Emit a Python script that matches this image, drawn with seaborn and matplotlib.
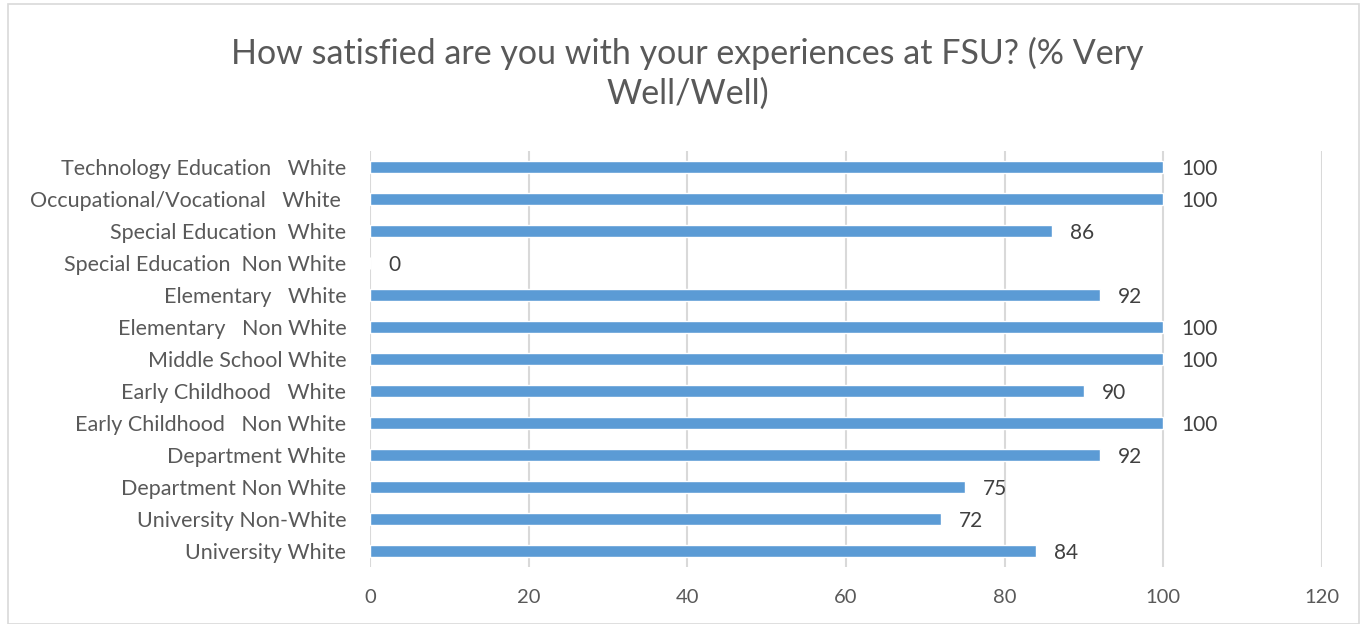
import matplotlib
matplotlib.use("Agg")
import matplotlib.pyplot as plt
import seaborn as sns
import pandas as pd
from matplotlib.patches import Rectangle

categories = [
    "Technology Education   White",
    "Occupational/Vocational   White ",
    "Special Education  White",
    "Special Education  Non White",
    "Elementary   White",
    "Elementary   Non White",
    "Middle School White",
    "Early Childhood   White",
    "Early Childhood   Non White",
    "Department White",
    "Department Non White",
    "University Non-White",
    "University White",
]
values = [100, 100, 86, 0, 92, 100, 100, 90, 100, 92, 75, 72, 84]
x_ticks = [0, 20, 40, 60, 80, 100, 120]
title = "How satisfied are you with your experiences at FSU? (% Very\nWell/Well)"

df = pd.DataFrame({"category": categories, "value": values})

sns.set_theme(style="white")
plt.rcParams["font.family"] = ["Lato", "DejaVu Sans"]

fig = plt.figure(figsize=(13.67, 6.24), dpi=100)
ax = fig.add_axes([370 / 1367, 1 - 567 / 624, (1322 - 370) / 1367, (567 - 151) / 624])

sns.barplot(data=df, x="value", y="category", order=categories, orient="h",
            color="#5B9BD5", saturation=1, width=0.375, ax=ax, zorder=3)

ax.set_xlim(0, 120)
ax.set_xticks(x_ticks)
ax.set_xticklabels([str(t) for t in x_ticks])
ax.grid(axis="x", color="#D9D9D9", linewidth=1.5, zorder=0)
ax.grid(axis="y", visible=False)
for s in ax.spines.values():
    s.set_visible(False)
ax.set_xlabel("")
ax.set_ylabel("")
ax.tick_params(axis="both", length=0, colors="#595959")
ax.tick_params(axis="x", pad=16, labelsize=14.5)
ax.tick_params(axis="y", pad=17, labelsize=15.5)

for cont in ax.containers:
    texts = ax.bar_label(cont, labels=[str(v) for v in values], padding=13,
                         fontsize=15, color="#404040")
    for t in texts:
        t.set_va("center_baseline")

fig.text(0.503, 1 - 73 / 624, title, ha="center", va="center", fontsize=24.5,
         color="#595959", linespacing=1.3)

fig.patches.append(Rectangle((8 / 1367, 0.5 / 624), 1 - 16 / 1367, 1 - 4 / 624,
                             transform=fig.transFigure, fill=False,
                             edgecolor="#D9D9D9", linewidth=1.2))

fig.savefig("out.png", dpi=100)
